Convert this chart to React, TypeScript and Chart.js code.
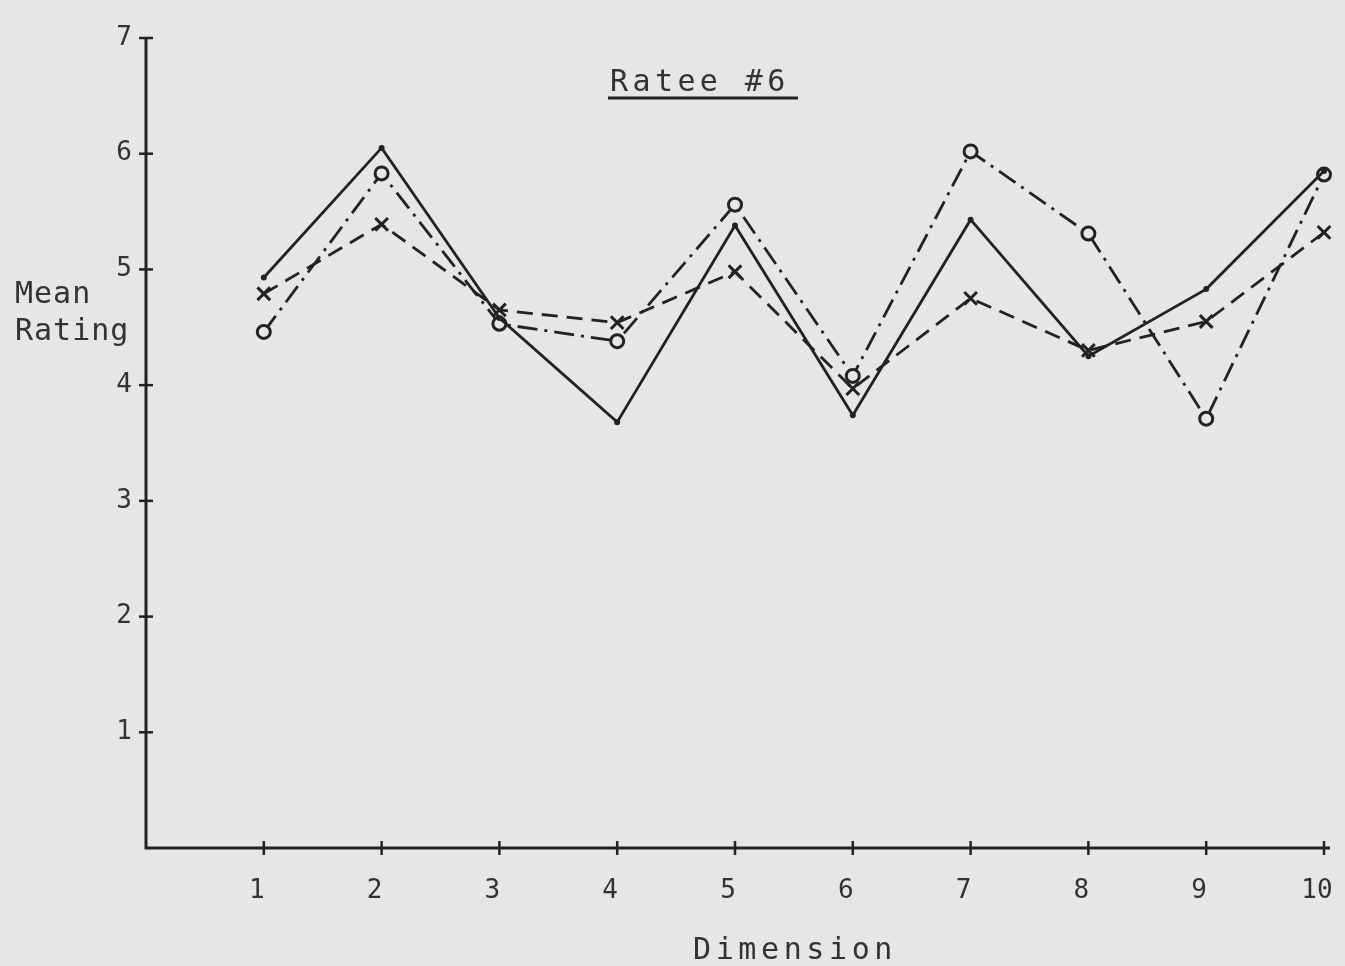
import React, { useEffect, useRef } from "react";
import { Chart, registerables } from "chart.js";

Chart.register(...registerables);

// ---- data ----
const dimensions = [1, 2, 3, 4, 5, 6, 7, 8, 9, 10];
const solidSeries = [4.93, 6.05, 4.58, 3.68, 5.38, 3.74, 5.43, 4.25, 4.83, 5.85];
const dashDotSeries = [4.46, 5.83, 4.53, 4.38, 5.56, 4.08, 6.02, 5.31, 3.71, 5.82];
const dashedSeries = [4.79, 5.39, 4.65, 4.54, 4.98, 3.97, 4.75, 4.3, 4.55, 5.32];
const yTickValues = [1, 2, 3, 4, 5, 6, 7];
const xTickValues = [1, 2, 3, 4, 5, 6, 7, 8, 9, 10];
const chartTitle = "Ratee #6";
const yAxisTitle = ["Mean", "Rating"];
const xAxisTitle = "Dimension";

const INK = "#222222";
const TEXT = "#333333";
const BG = "#e6e6e6";
const FONT = "'DejaVu Sans Mono', 'Liberation Mono', monospace";

const toPoints = (vals: number[]) => dimensions.map((d, i) => ({ x: d, y: vals[i] }));

const decorPlugin = {
  id: "decor",
  afterDraw(chart: any) {
    const ctx = chart.ctx as CanvasRenderingContext2D;
    const xs = chart.scales.x;
    const ys = chart.scales.y;
    const area = chart.chartArea;
    ctx.save();
    ctx.strokeStyle = INK;
    ctx.lineWidth = 3;
    ctx.lineCap = "butt";
    // axes
    ctx.beginPath();
    ctx.moveTo(area.left, ys.getPixelForValue(7));
    ctx.lineTo(area.left, area.bottom);
    ctx.lineTo(xs.getPixelForValue(10) + 6, area.bottom);
    ctx.stroke();
    // tick marks crossing the axes
    ctx.lineWidth = 2.5;
    yTickValues.forEach((v) => {
      const y = ys.getPixelForValue(v);
      ctx.beginPath();
      ctx.moveTo(area.left - 7, y);
      ctx.lineTo(area.left + 7, y);
      ctx.stroke();
    });
    xTickValues.forEach((v) => {
      const x = xs.getPixelForValue(v);
      ctx.beginPath();
      ctx.moveTo(x, area.bottom - 7);
      ctx.lineTo(x, area.bottom + 7);
      ctx.stroke();
    });
    // texts
    ctx.fillStyle = TEXT;
    ctx.textAlign = "left";
    ctx.textBaseline = "alphabetic";
    ctx.font = `30px ${FONT}`;
    (ctx as any).letterSpacing = "4.4px";
    ctx.fillText(chartTitle, 610, 91);
    ctx.beginPath();
    ctx.lineWidth = 3;
    ctx.moveTo(608, 98);
    ctx.lineTo(798, 98);
    ctx.stroke();
    (ctx as any).letterSpacing = "4.6px";
    ctx.fillText(xAxisTitle, 693, 959);
    (ctx as any).letterSpacing = "1px";
    ctx.fillText(yAxisTitle[0], 15, 303);
    ctx.fillText(yAxisTitle[1], 15, 340);
    (ctx as any).letterSpacing = "0px";
    ctx.restore();
  },
};

export default function App() {
  const canvasRef = useRef<HTMLCanvasElement | null>(null);

  useEffect(() => {
    const canvas = canvasRef.current;
    if (!canvas) return;
    const chart = new Chart(canvas, {
      type: "line",
      data: {
        datasets: [
          {
            label: "Solid",
            data: toPoints(solidSeries),
            borderColor: INK,
            backgroundColor: INK,
            borderWidth: 2.8,
            pointStyle: "circle",
            pointRadius: 3,
            pointBorderWidth: 0,
            pointBackgroundColor: INK,
            clip: false as any,
          },
          {
            label: "Dash-dot",
            data: toPoints(dashDotSeries),
            borderColor: INK,
            borderWidth: 2.8,
            borderDash: [20, 7, 3, 7],
            pointStyle: "circle",
            pointRadius: 6.5,
            pointBorderWidth: 3,
            pointBackgroundColor: BG,
            pointBorderColor: INK,
            clip: false as any,
          },
          {
            label: "Dashed",
            data: toPoints(dashedSeries),
            borderColor: INK,
            borderWidth: 2.8,
            borderDash: [16, 9],
            pointStyle: "crossRot",
            pointRadius: 9,
            pointBorderWidth: 3,
            pointBorderColor: INK,
            clip: false as any,
          },
        ],
      },
      options: {
        animation: false,
        responsive: true,
        maintainAspectRatio: false,
        layout: { padding: { left: 0, right: 21, top: 38, bottom: 0 } },
        plugins: {
          legend: { display: false },
          tooltip: { enabled: false },
        },
        elements: { line: { tension: 0 } },
        scales: {
          x: {
            type: "linear",
            min: 0,
            max: 10,
            grid: { display: false, drawTicks: false },
            border: { display: false },
            afterFit: (s: any) => {
              s.height = 118;
              s.paddingLeft = 0;
              s.paddingRight = 0;
            },
            ticks: {
              stepSize: 1,
              padding: 28,
              labelOffset: -7,
              color: TEXT,
              font: { family: FONT, size: 26 },
              callback: (v: any) => (v === 0 ? "" : String(v)),
            },
          },
          y: {
            type: "linear",
            min: 0,
            max: 7,
            grid: { display: false, drawTicks: false },
            border: { display: false },
            afterFit: (s: any) => {
              s.width = 146;
              s.paddingTop = 0;
              s.paddingBottom = 0;
            },
            ticks: {
              stepSize: 1,
              padding: 14,
              color: TEXT,
              font: { family: FONT, size: 26 },
              callback: (v: any) => (v === 0 ? "" : String(v)),
            },
          },
        },
      },
      plugins: [decorPlugin],
    } as any);
    return () => chart.destroy();
  }, []);

  return (
    <div
      style={{
        position: "fixed",
        left: 0,
        top: 0,
        width: 1345,
        height: 966,
        background: BG,
      }}
    >
      <canvas ref={canvasRef} />
    </div>
  );
}
